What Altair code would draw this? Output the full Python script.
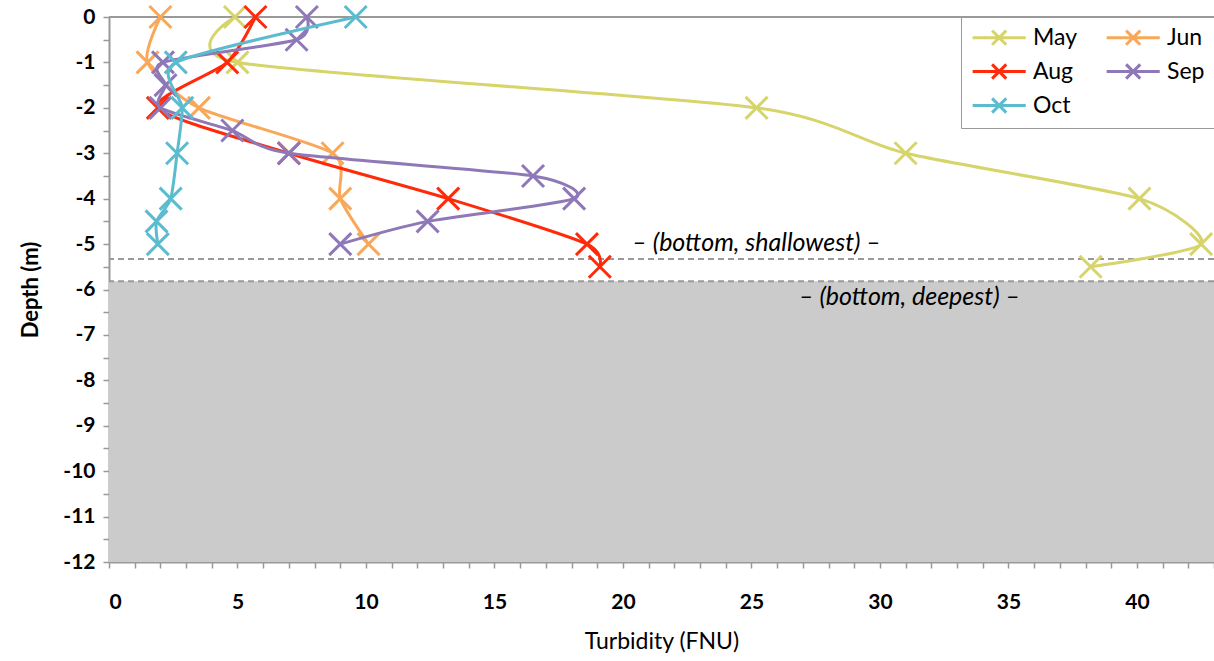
import altair as alt
import pandas as pd

months = ["May", "Jun", "Aug", "Sep", "Oct"]
colors = ["#D6D46A", "#F9A85A", "#FF2A0A", "#8E78B8", "#5BBCD0"]
legend_order = ["May", "Aug", "Oct", "Jun", "Sep"]

may_depth = [0, -1, -2, -3, -4, -5, -5.5]
may_turb = [4.9, 5.0, 25.2, 31.0, 40.1, 42.5, 38.2]

jun_depth = [0, -1, -2, -3, -4, -5]
jun_turb = [2.0, 1.5, 3.5, 8.7, 9.0, 10.1]

aug_depth = [0, -1, -2, -3, -4, -5, -5.5]
aug_turb = [5.7, 4.6, 1.9, 7.0, 13.2, 18.6, 19.1]

sep_depth = [0, -0.5, -1, -1.5, -2, -2.5, -3, -3.5, -4, -4.5, -5]
sep_turb = [7.7, 7.3, 2.1, 2.2, 2.0, 4.8, 7.0, 16.5, 18.1, 12.4, 9.0]

oct_depth = [0, -1, -2, -3, -4, -4.5, -5]
oct_turb = [9.6, 2.6, 2.85, 2.65, 2.4, 1.85, 1.9]

bottom_shallowest = -5.33
bottom_deepest = -5.82
depth_min = -12
x_max = 43

x_tick_values = list(range(0, 44))
y_tick_values = [v / 2 for v in range(-24, 1)]

series = {
    "May": (may_depth, may_turb),
    "Jun": (jun_depth, jun_turb),
    "Aug": (aug_depth, aug_turb),
    "Sep": (sep_depth, sep_turb),
    "Oct": (oct_depth, oct_turb),
}
rows = []
for si, (m, (d, t)) in enumerate(series.items()):
    for i, (dd, tt) in enumerate(zip(d, t)):
        rows.append({"month": m, "depth": dd, "turb": tt, "idx": i, "sidx": si})
df = pd.DataFrame(rows)

FONT = "Lato"

xscale = alt.Scale(domain=[0, x_max], nice=False, zero=False)
yscale = alt.Scale(domain=[depth_min, 0], nice=False, zero=False)
cscale = alt.Scale(domain=months, range=colors)

x_axis = alt.Axis(title="Turbidity (FNU)", values=x_tick_values,
                  labelExpr="datum.value % 5 == 0 ? toString(datum.value) : ''",
                  labelOverlap=False, labelBound=False, grid=False)
y_axis = alt.Axis(title="Depth (m)", values=y_tick_values,
                  labelExpr="datum.value % 1 == 0 ? toString(datum.value) : ''",
                  labelOverlap=False, grid=False)

rect_df = pd.DataFrame({"x": [0], "x2": [x_max], "y": [bottom_deepest], "y2": [depth_min]})
gray = alt.Chart(rect_df).mark_rect(color="#CBCBCB").encode(
    x=alt.X("x:Q", scale=xscale, axis=x_axis),
    x2="x2:Q",
    y=alt.Y("y:Q", scale=yscale, axis=y_axis),
    y2="y2:Q",
)

lines_df = pd.DataFrame({"d": [bottom_shallowest, bottom_deepest], "k": ["s", "d"]})
dashed = alt.Chart(lines_df).mark_rule(color="#999999", strokeWidth=2, strokeDash=[6, 4]).encode(
    y=alt.Y("d:Q", scale=yscale, axis=y_axis)
)

zero_df = pd.DataFrame({"d": [0]})
zero_line = alt.Chart(zero_df).mark_rule(color="#999999", strokeWidth=2).encode(
    y=alt.Y("d:Q", scale=yscale, axis=y_axis)
)

ann_df = pd.DataFrame({
    "x": [25.2, 31.15],
    "y": [-4.98, -6.17],
    "t": ["– (bottom, shallowest) –", "– (bottom, deepest) –"],
})
ann = alt.Chart(ann_df).mark_text(font=FONT, fontSize=25, fontStyle="italic",
                                  color="#000000", align="center", baseline="middle").encode(
    x=alt.X("x:Q", scale=xscale, axis=x_axis),
    y=alt.Y("y:Q", scale=yscale, axis=y_axis),
    text="t:N",
)

legend_sym = "M-1,0L5,0M1.2,-0.8L2.8,0.8M2.8,-0.8L1.2,0.8"
xpath = "M-1,-1L1,1M1,-1L-1,1"

legend = alt.Legend(title=None, orient="top-right", columns=2, values=legend_order,
                    symbolType=legend_sym, symbolSize=313,
                    symbolStrokeWidth=3, symbolFillColor="transparent",
                    labelFont=FONT, labelFontSize=23, labelColor="#000000",
                    labelOffset=40, columnPadding=22, rowPadding=7,
                    padding=9, strokeColor="#999999", fillColor="#FFFFFF",
                    offset=0)

series_layers = []
for k, m in enumerate(months):
    sub = df[df["month"] == m]
    b = alt.Chart(sub)
    series_layers.append(
        b.mark_line(interpolate="cardinal", tension=0.3, strokeWidth=3).encode(
            x=alt.X("turb:Q", scale=xscale, axis=x_axis),
            y=alt.Y("depth:Q", scale=yscale, axis=y_axis),
            color=alt.Color("month:N", scale=cscale, legend=legend),
            order="idx:Q",
        )
    )
    series_layers.append(
        b.mark_point(shape=xpath, size=484, strokeWidth=3, filled=False, opacity=1).encode(
            x=alt.X("turb:Q", scale=xscale, axis=x_axis),
            y=alt.Y("depth:Q", scale=yscale, axis=y_axis),
            color=alt.Color("month:N", scale=cscale, legend=legend),
        )
    )

chart = alt.layer(gray, dashed, zero_line, ann, *series_layers).properties(
    width=1105, height=545,
    autosize=alt.AutoSizeParams(type="none"),
    padding={"left": 109, "top": 17, "right": 0, "bottom": 99},
).configure_view(stroke=None).configure_axis(
    domainColor="#999999", domainWidth=2, tickColor="#999999", tickWidth=1.5,
    labelFont=FONT, labelFontSize=21, labelFontWeight="bold", labelColor="#000000",
    titleFont=FONT, titleColor="#000000", labelOverlap=False,
).configure_axisX(
    tickSize=6, labelPadding=23, titleFontSize=23, titleFontWeight="normal", titlePadding=18,
).configure_axisY(
    tickSize=6, labelPadding=8, titleFontSize=22, titleFontWeight="bold", titlePadding=20,
)

chart.save("out.html", embed_options={"renderer": "svg", "actions": False})
